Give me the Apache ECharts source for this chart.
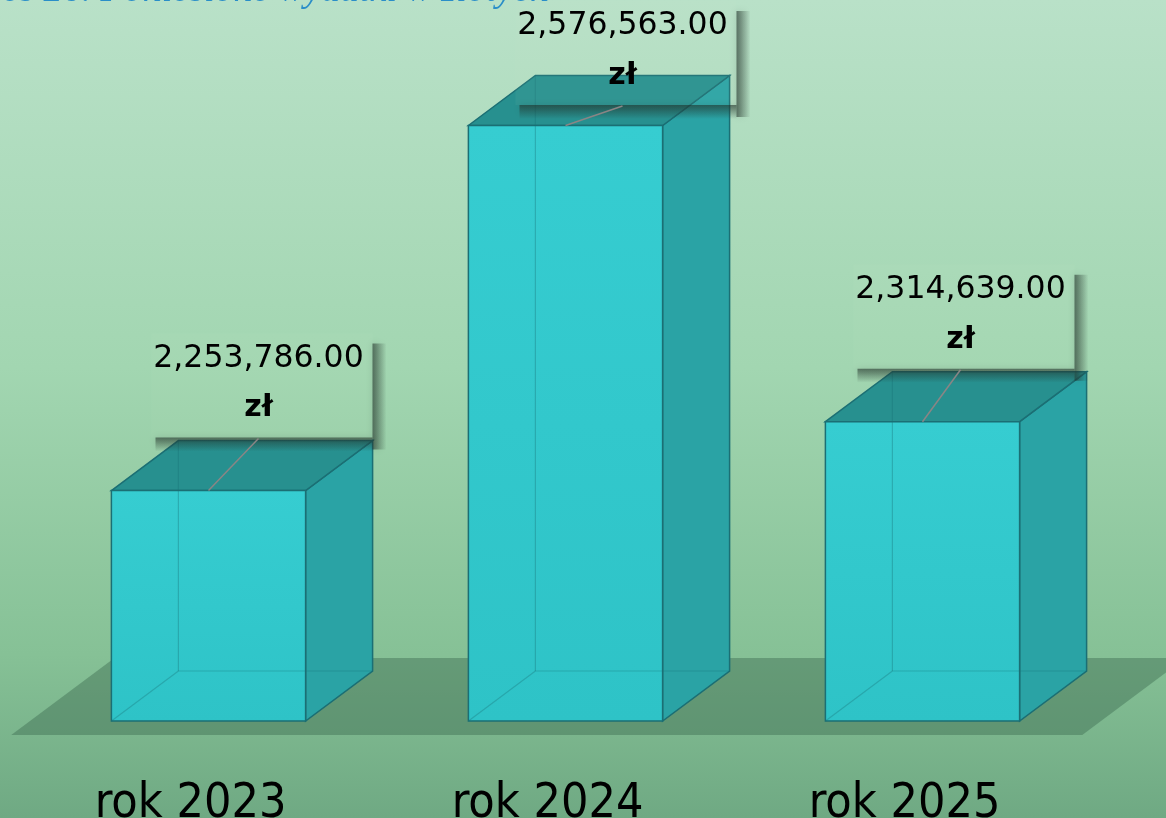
<!DOCTYPE html>
<html>
<head>
<meta charset="utf-8">
<script src="https://cdn.jsdelivr.net/npm/echarts@6/dist/echarts.min.js"></script>
<style>
html,body{margin:0;padding:0;width:1166px;height:818px;overflow:hidden;}
#c{width:1166px;height:818px;}
</style>
</head>
<body>
<div id="c"></div>
<script>
// ---- data ----
const categories = ['rok 2023', 'rok 2024', 'rok 2025'];
const values = [2253786, 2576563, 2314639];
const currency = 'zł';
const titleText = 'Wykres 26. Poniesione wydatki w złotych';
const yMin = 2050000;
const yMax = 2600000;

// ---- layout constants ----
const DEPTH_X = 67, DEPTH_Y = -50;
const labelShift = [50, 57, 38];

const fmt = v => v.toLocaleString('en-US', {minimumFractionDigits: 2, maximumFractionDigits: 2});

const chart = echarts.init(document.getElementById('c'), null, {renderer: 'canvas', width: 1166, height: 818});

function barGeom(api) {
  const top = api.coord([api.value(0), api.value(1)]);
  const base = api.coord([api.value(0), yMin]);
  const bw = api.size([1, 0])[0] * 0.544;
  return {cx: top[0], x0: top[0] - bw / 2, x1: top[0] + bw / 2, yt: top[1], yb: base[1]};
}

const edge = '#1b6f74';

const option = {
  backgroundColor: {
    type: 'linear', x: 0, y: 0, x2: 0, y2: 1,
    colorStops: [
      {offset: 0, color: '#b9e1c8'},
      {offset: 0.45, color: '#a2d6b1'},
      {offset: 0.8, color: '#86c196'},
      {offset: 1, color: '#6fa983'}
    ]
  },
  animation: false,
  grid: {left: 30, right: 65, top: 99, bottom: 97, containLabel: false, outerBoundsMode: 'none'},
  graphic: [{
    type: 'text',
    z: 100,
    style: {
      text: titleText,
      x: 549, y: 10,
      align: 'right',
      verticalAlign: 'bottom',
      font: 'italic 38px "Liberation Serif", serif',
      fill: '#2a8ec8'
    }
  }],
  xAxis: {
    type: 'category',
    data: categories,
    axisLine: {show: false},
    axisTick: {show: false},
    splitLine: {show: false},
    axisLabel: {
      margin: 60,
      color: '#000',
      fontSize: 48,
      lineHeight: 48,
      fontFamily: '"DejaVu Sans Condensed", "Liberation Sans Narrow", "DejaVu Sans", sans-serif',
      padding: [0, 36, 0, 0]
    }
  },
  yAxis: {
    type: 'value', min: yMin, max: yMax, show: false,
    splitLine: {show: false}
  },
  series: [
    {
      // floor plane
      type: 'custom',
      z: 1,
      silent: true,
      data: [[0, yMin]],
      renderItem(params, api) {
        const cs = params.coordSys;
        const yb = cs.y + cs.height;
        const k = DEPTH_X / -DEPTH_Y;
        const dFront = 14, dBack = -63;
        const pts = [
          [cs.x - dFront * k, yb + dFront],
          [cs.x + cs.width - dFront * k, yb + dFront],
          [cs.x + cs.width - dBack * k, yb + dBack],
          [cs.x - dBack * k, yb + dBack]
        ];
        return {
          type: 'polygon',
          shape: {points: pts},
          style: {fill: 'rgba(62,108,82,0.45)'}
        };
      }
    },
    {
      type: 'custom',
      z: 2,
      data: values.map((v, i) => [i, v]),
      renderItem(params, api) {
        const g = barGeom(api);
        const {x0, x1, yt, yb} = g;
        const dx = DEPTH_X, dy = DEPTH_Y;
        const hidden = 'rgba(25,115,120,0.35)';
        return {
          type: 'group',
          children: [
            {
              type: 'polygon',
              shape: {points: [[x1, yt], [x1 + dx, yt + dy], [x1 + dx, yb + dy], [x1, yb]]},
              style: {fill: '#2aa3a5', stroke: edge, lineWidth: 1.5}
            },
            {
              type: 'polygon',
              shape: {points: [[x0, yt], [x0 + dx, yt + dy], [x1 + dx, yt + dy], [x1, yt]]},
              style: {fill: '#27908f', stroke: edge, lineWidth: 1.5}
            },
            {
              type: 'rect',
              shape: {x: x0, y: yt, width: x1 - x0, height: yb - yt},
              style: {
                fill: {
                  type: 'linear', x: 0, y: 0, x2: 0, y2: 1,
                  colorStops: [{offset: 0, color: '#36cdd1'}, {offset: 1, color: '#2ec3c7'}]
                },
                stroke: edge, lineWidth: 1.5
              }
            },
            {type: 'line', shape: {x1: x0 + dx, y1: yt + dy, x2: x0 + dx, y2: yb + dy}, style: {stroke: hidden, lineWidth: 1.2}},
            {type: 'line', shape: {x1: x0 + dx, y1: yb + dy, x2: x1 + dx, y2: yb + dy}, style: {stroke: hidden, lineWidth: 1.2}},
            {type: 'line', shape: {x1: x0, y1: yb, x2: x0 + dx, y2: yb + dy}, style: {stroke: hidden, lineWidth: 1.2}}
          ]
        };
      }
    },
    {
      // value labels with shadowed boxes
      type: 'custom',
      z: 5,
      data: values.map((v, i) => [i, v]),
      renderItem(params, api) {
        const g = barGeom(api);
        const i = params.dataIndex;
        const cx = g.cx + labelShift[i];
        const B = Math.max(g.yt - 53, 105);
        const L = cx - 105, R = cx + 114, T = B - 102;
        const sh = 'rgba(35,50,42,';
        return {
          type: 'group',
          children: [
            {
              type: 'rect',
              shape: {x: L - 2, y: T - 2, width: R - L + 2, height: B - T + 2},
              style: {fill: 'rgba(200,236,212,0.06)'}
            },
            {
              type: 'rect',
              shape: {x: R, y: T + 8, width: 14, height: B - T + 4},
              style: {
                fill: {type: 'linear', x: 0, y: 0, x2: 1, y2: 0,
                  colorStops: [{offset: 0, color: sh + '0.6)'}, {offset: 0.5, color: sh + '0.28)'}, {offset: 1, color: sh + '0)'}]},
                shadowBlur: 7, shadowColor: sh + '0.25)'
              }
            },
            {
              type: 'rect',
              shape: {x: L + 2, y: B, width: R - L - 2, height: 14},
              style: {
                fill: {type: 'linear', x: 0, y: 0, x2: 0, y2: 1,
                  colorStops: [{offset: 0, color: sh + '0.6)'}, {offset: 0.5, color: sh + '0.28)'}, {offset: 1, color: sh + '0)'}]},
                shadowBlur: 7, shadowColor: sh + '0.25)'
              }
            },
            {
              type: 'line',
              shape: {x1: cx, y1: B + 1, x2: g.cx, y2: g.yt},
              style: {stroke: '#8a8585', lineWidth: 1.5}
            },
            {
              type: 'text',
              style: {
                text: fmt(api.value(1)),
                x: cx, y: B - 79,
                align: 'center', verticalAlign: 'middle',
                font: '31.5px "DejaVu Sans", sans-serif',
                fill: '#000'
              }
            },
            {
              type: 'text',
              style: {
                text: currency,
                x: cx, y: B - 29,
                align: 'center', verticalAlign: 'middle',
                font: 'bold 30px "DejaVu Sans", sans-serif',
                fill: '#000'
              }
            }
          ]
        };
      }
    }
  ]
};

chart.setOption(option);
</script>
</body>
</html>
